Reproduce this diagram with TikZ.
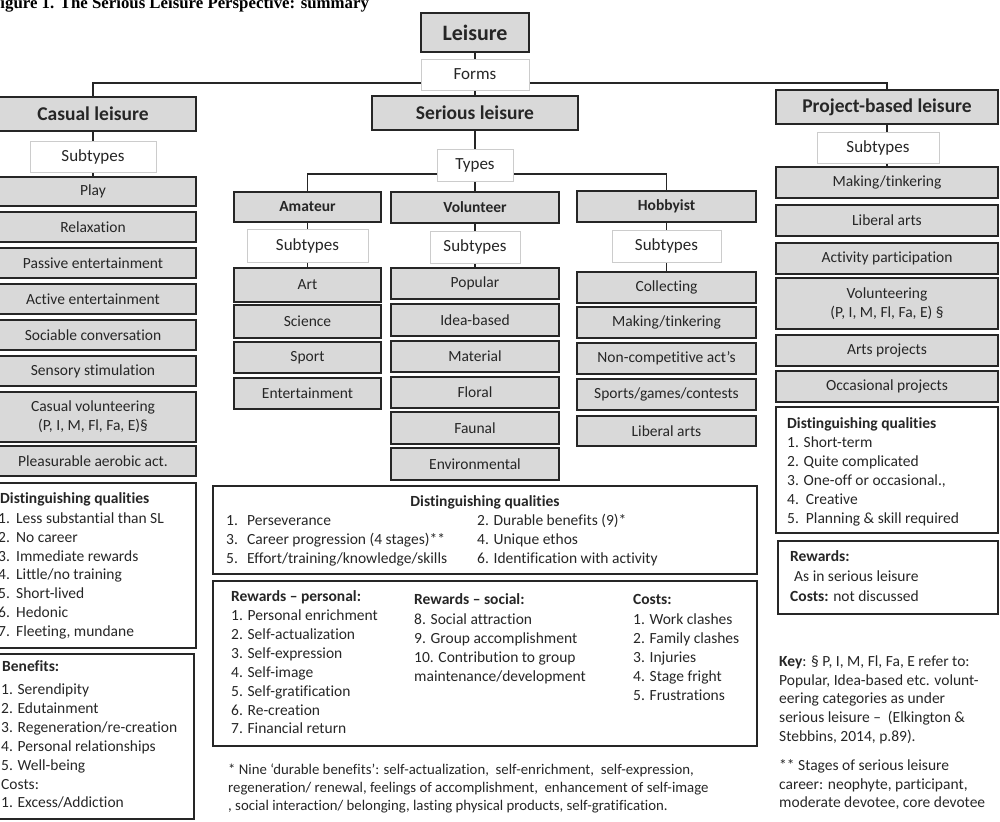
\documentclass[tikz,border=0pt]{standalone}
\usepackage{fontspec}
\setmainfont{Carlito}[Ligatures=NoCommon]
\newfontfamily\captionserif{Liberation Serif}
\usetikzlibrary{backgrounds}
\tikzset{
  boxspan/.style n args={4}{minimum width={(#3)-(#1)}, minimum height={(#4)-(#2)},
                            at={({((#1)+(#3))/2},{((#2)+(#4))/2})}},
  greybox/.style   = {draw=black!85, line width=1.6pt, fill=black!15, inner sep=0pt,
                      align=center, text=black!85, font=\fontsize{15.5}{19}\selectfont},
  formbox/.style   = {greybox, font=\fontsize{19.5}{23}\selectfont\bfseries},
  typebox/.style   = {greybox, font=\fontsize{15.5}{19}\selectfont\bfseries},
  labelbox/.style  = {draw=black!20, line width=0.8pt, fill=white, inner sep=0pt,
                      text=black!85, font=\fontsize{17}{20}\selectfont},
  notebox/.style   = {draw=black!85, line width=1.4pt, inner sep=0pt},
  txtline/.style   = {anchor=base west, inner sep=0pt, text=black!85,
                      font=\fontsize{15.5}{19}\selectfont},
  connector/.style = {draw=black!85, line width=1.6pt},
}
\newcommand{\numtab}[2][18pt]{\makebox[#1][l]{#2}}

\begin{document}
\begin{tikzpicture}[x=1pt, y=-1pt]
  \useasboundingbox (0,0) rectangle (1000,821);
  \clip (0,0) rectangle (1000,821);

  % --- caption ---
  \node[anchor=base west, inner sep=0pt,
        font=\captionserif\bfseries\fontsize{16.8}{19}\selectfont] (caption)
    at (-10,8.5) {Figure 1. The Serious Leisure Perspective: summary};

  % --- top of the tree ---
  \node[greybox, boxspan={421}{13}{529}{52},
        font=\fontsize{22}{26}\selectfont\bfseries] (leisure) {Leisure};
  \node[labelbox, boxspan={421}{59}{529}{90}] (forms) {Forms};
  \coordinate (formsbar) at (475,83);

  % --- casual leisure ---
  \node[formbox, boxspan={-10}{97}{196}{131}] (casual) {Casual leisure};
  \node[labelbox, boxspan={30}{141}{156}{172}] (csub) {Subtypes};
  \node[greybox, boxspan={-10}{177}{196}{206}] (cplay) {Play};
  \node[greybox, boxspan={-10}{212}{196}{242}] (crelax) {Relaxation};
  \node[greybox, boxspan={-10}{248}{196}{278}] (cpassive) {Passive entertainment};
  \node[greybox, boxspan={-10}{284}{196}{314}] (cactive) {Active entertainment};
  \node[greybox, boxspan={-10}{320}{196}{350}] (csocial) {Sociable conversation};
  \node[greybox, boxspan={-10}{356}{196}{386}] (csensory) {Sensory stimulation};
  \node[greybox, boxspan={-10}{392}{196}{442}] (cvolunteer)
    {Casual volunteering\\(P, I, M, Fl, Fa, E)§};
  \node[greybox, boxspan={-10}{446}{196}{476}] (caerobic) {Pleasurable aerobic act.};

  % --- serious leisure ---
  \node[formbox, boxspan={372}{96}{578}{130}] (serious) {Serious leisure};
  \node[labelbox, boxspan={437}{149}{513}{181}] (types) {Types};
  \coordinate (typesbar) at (475,174);

  \node[typebox, boxspan={234}{192}{381}{222}] (amateur) {Amateur};
  \node[labelbox, boxspan={247}{229}{368}{262}] (asub) {Subtypes};
  \node[greybox, boxspan={234}{268}{381}{302}] (aart) {Art};
  \node[greybox, boxspan={234}{305}{381}{338}] (ascience) {Science};
  \node[greybox, boxspan={234}{342}{381}{373}] (asport) {Sport};
  \node[greybox, boxspan={234}{378}{381}{409}] (aentertain) {Entertainment};

  \node[typebox, boxspan={391}{192}{559}{223}] (volunteer) {Volunteer};
  \node[labelbox, boxspan={430}{231}{520}{263}] (vsub) {Subtypes};
  \node[greybox, boxspan={391}{268}{559}{299}] (vpopular) {Popular};
  \node[greybox, boxspan={391}{304}{559}{336}] (videa) {Idea-based};
  \node[greybox, boxspan={391}{341}{559}{372}] (vmaterial) {Material};
  \node[greybox, boxspan={391}{377}{559}{408}] (vfloral) {Floral};
  \node[greybox, boxspan={391}{412}{559}{444}] (vfaunal) {Faunal};
  \node[greybox, boxspan={391}{448}{559}{480}] (venviron) {Environmental};

  \node[typebox, boxspan={577}{191}{756}{222}] (hobbyist) {Hobbyist};
  \node[labelbox, boxspan={612}{230}{721}{262}] (hsub) {Subtypes};
  \node[greybox, boxspan={577}{272}{756}{303}] (hcollect) {Collecting};
  \node[greybox, boxspan={577}{307}{756}{338}] (hmaking) {Making/tinkering};
  \node[greybox, boxspan={577}{343}{756}{374}] (hnoncomp) {Non-competitive act’s};
  \node[greybox, boxspan={577}{379}{756}{410}] (hsports) {Sports/games/contests};
  \node[greybox, boxspan={577}{416}{756}{446}] (hliberal) {Liberal arts};

  % --- project-based leisure ---
  \node[formbox, boxspan={776}{90}{998}{124}] (project) {Project-based leisure};
  \node[labelbox, boxspan={817}{132}{939}{163}] (psub) {Subtypes};
  \node[greybox, boxspan={776}{167}{998}{198}] (pmaking) {Making/tinkering};
  \node[greybox, boxspan={776}{205}{998}{236}] (pliberal) {Liberal arts};
  \node[greybox, boxspan={776}{243}{998}{274}] (pactivity) {Activity participation};
  \node[greybox, boxspan={776}{278}{998}{329}] (pvolunteer)
    {Volunteering\\(P, I, M, Fl, Fa, E) §};
  \node[greybox, boxspan={776}{335}{998}{366}] (parts) {Arts projects};
  \node[greybox, boxspan={776}{371}{998}{402}] (poccasion) {Occasional projects};

  % --- connectors ---
  \begin{scope}[on background layer]
    \draw[connector] (leisure) -- (forms);
    \draw[connector] (casual.north) |- (formsbar) -| (project.north);
    \draw[connector] (forms) -- (serious);
    \draw[connector] (serious) -- (types) -- (volunteer);
    \draw[connector] (amateur.north) |- (typesbar) -| (hobbyist.north);
    \draw[connector] (casual) -- (csub) -- (cplay);
    \draw[connector] (amateur) -- (asub) -- (aart);
    \draw[connector] (volunteer) -- (vsub) -- (vpopular);
    \draw[connector] (hobbyist) -- (hsub) -- (hcollect);
    \draw[connector] (project) -- (pmaking);
  \end{scope}

  % --- casual leisure notes ---
  \node[notebox, boxspan={-10}{483}{196}{648}] (cquality) {};
  \node[txtline, font=\fontsize{15.5}{19}\selectfont\bfseries] (cqtitle)
    at (0,503.5) {Distinguishing qualities};
  \foreach \txt [count=\k from 0] in {{\numtab{1.}Less substantial than SL},
      {\numtab{2.}No career}, {\numtab{3.}Immediate rewards},
      {\numtab{4.}Little/no training}, {\numtab{5.}Short-lived},
      {\numtab{6.}Hedonic}, {\numtab{7.}Fleeting, mundane}}
    \node[txtline] (cq\k) at (-2,{523.5+18.8*\k}) {\txt};

  \node[notebox, boxspan={-10}{654}{194}{819}] (cbenefit) {};
  \node[txtline] (cbtitle) at (2,671.5) {\textbf{Benefits:}};
  \foreach \txt [count=\k from 0] in {1. Serendipity, 2. Edutainment,
      3. Regeneration/re-creation, 4. Personal relationships, 5. Well-being}
    \node[txtline] (cb\k) at (1,{694.5+19*\k}) {\txt};
  \node[txtline] (cctitle) at (1,789.5) {Costs:};
  \node[txtline] (cc0) at (1,807.5) {1. Excess/Addiction};

  % --- serious leisure notes ---
  \node[notebox, boxspan={213}{486}{757}{574}] (squality) {};
  \node[txtline, anchor=base, font=\fontsize{15.5}{19}\selectfont\bfseries] (sqtitle)
    at (485,506.5) {Distinguishing qualities};
  \foreach \txt [count=\k from 0] in {{\numtab[21pt]{1.}Perseverance},
      {\numtab[21pt]{3.}Career progression (4 stages)**},
      {\numtab[21pt]{5.}Effort/training/knowledge/skills}}
    \node[txtline] (sqa\k) at (226,{525.5+19*\k}) {\txt};
  \foreach \txt [count=\k from 0] in {2. Durable benefits (9)*, 4. Unique ethos,
      6. Identification with activity}
    \node[txtline] (sqb\k) at (477,{525.5+19*\k}) {\txt};

  \node[notebox, boxspan={213}{581}{757}{746}] (sreward) {};
  \node[txtline] (srptitle) at (231,601.5) {\textbf{Rewards – personal:}};
  \foreach \txt [count=\k from 0] in {1. Personal enrichment, 2. Self-actualization,
      3. Self-expression, 4. Self-image, 5. Self-gratification, 6. Re-creation,
      7. Financial return}
    \node[txtline] (srp\k) at (231,{620.5+18.9*\k}) {\txt};
  \node[txtline] (srstitle) at (414,604.5) {\textbf{Rewards – social:}};
  \foreach \txt [count=\k from 0] in {8. Social attraction, 9. Group accomplishment,
      10. Contribution to group, maintenance/development}
    \node[txtline] (srs\k) at (414,{624.5+19*\k}) {\txt};
  \node[txtline] (sctitle) at (633,604.5) {\textbf{Costs:}};
  \foreach \txt [count=\k from 0] in {1. Work clashes, 2. Family clashes,
      3. Injuries, 4. Stage fright, 5. Frustrations}
    \node[txtline] (sc\k) at (633,{624.5+19*\k}) {\txt};

  % --- durable benefits footnote ---
  \node[txtline, font=\fontsize{14.8}{18}\selectfont] (durable0) at (228,774.5)
    {* Nine ‘durable benefits’: self-actualization,\ \ self-enrichment,\ \ self-expression,};
  \node[txtline, font=\fontsize{14.8}{18}\selectfont] (durable1) at (228,792.5)
    {regeneration/ renewal, feelings of accomplishment,\ \ enhancement of self-image};
  \node[txtline, font=\fontsize{14.8}{18}\selectfont] (durable2) at (228,810.5)
    {, social interaction/ belonging, lasting physical products, self-gratification.};

  % --- project-based leisure notes ---
  \node[notebox, boxspan={776}{407}{998}{533}] (pquality) {};
  \node[txtline, font=\fontsize{15.5}{19}\selectfont\bfseries] (pqtitle)
    at (787,428.5) {Distinguishing qualities};
  \foreach \txt [count=\k from 0] in {1. Short-term, 2. Quite complicated,
      {3. One-off or occasional.,}, 4.\ \ Creative, 5.\ \ Planning \& skill required}
    \node[txtline] (pq\k) at (787,{447.5+19*\k}) {\txt};

  \node[notebox, boxspan={778}{541}{998}{614}] (preward) {};
  \node[txtline] (prtitle) at (790,561.5) {\textbf{Rewards:}};
  \node[txtline] (pr0) at (794,581.5) {As in serious leisure};
  \node[txtline] (pcost) at (790,601.5) {\textbf{Costs:} not discussed};

  % --- key ---
  \foreach \txt [count=\k from 0] in {{\textbf{Key}: § P, I, M, Fl, Fa, E refer to:},
      {Popular, Idea-based etc. volunt-}, eering categories as under,
      serious leisure –\ \ (Elkington \&, {Stebbins, 2014, p.89).}}
    \node[txtline] (key\k) at (779,{666.5+18.7*\k}) {\txt};
  \foreach \txt [count=\k from 0] in {** Stages of serious leisure,
      {career: neophyte, participant,}, {moderate devotee, core devotee}}
    \node[txtline] (stage\k) at (779,{770.5+18.6*\k}) {\txt};
\end{tikzpicture}
\end{document}
